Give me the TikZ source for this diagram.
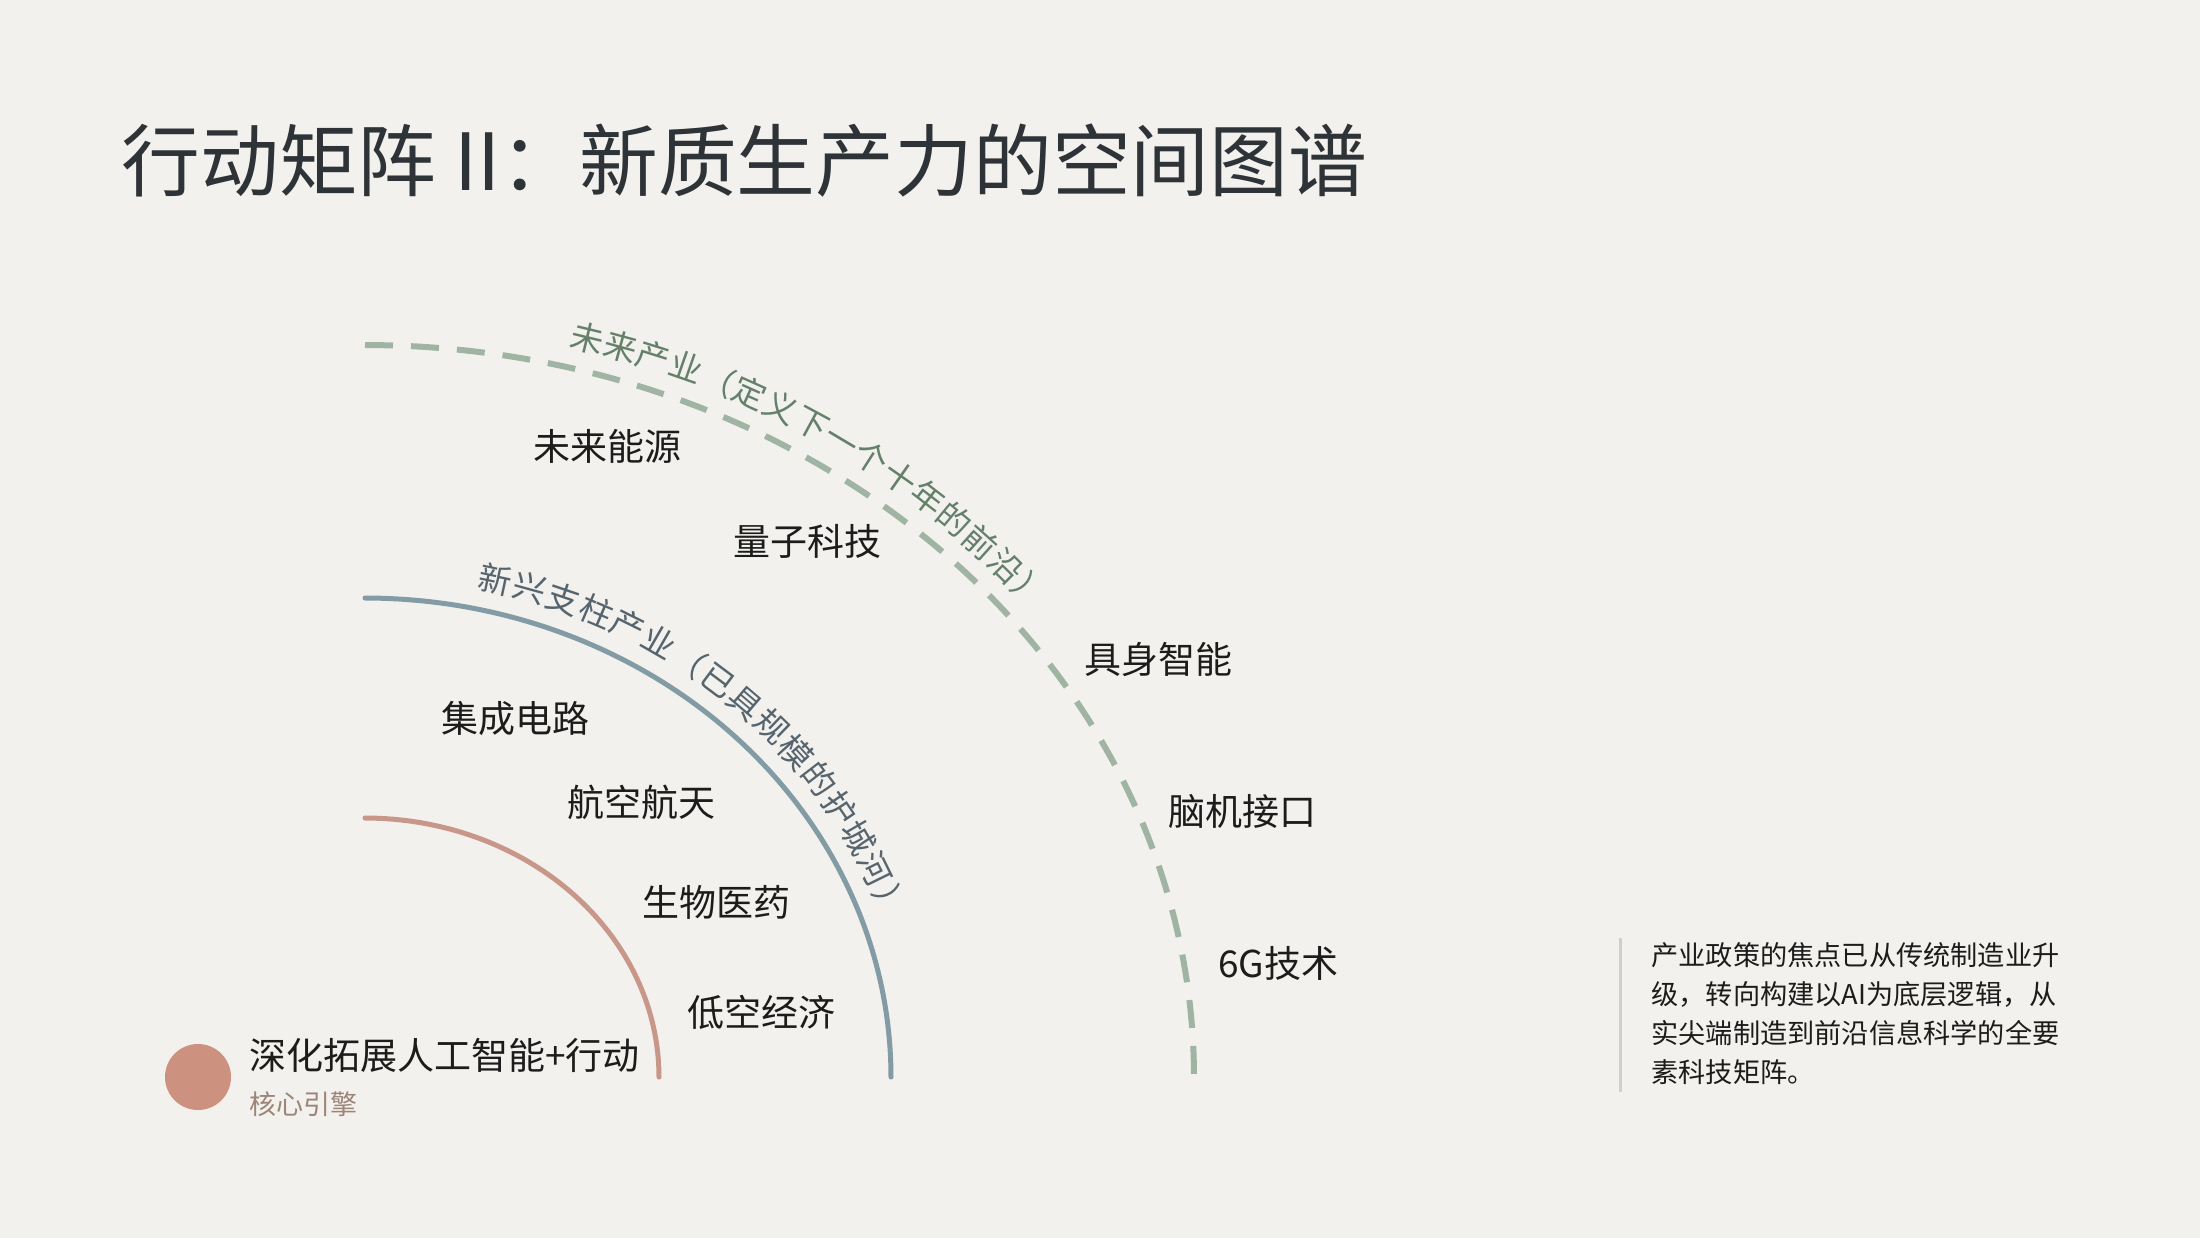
\documentclass[tikz,border=0pt]{standalone}
\usepackage{fontspec}
\setmainfont{Noto Sans CJK SC}
\usetikzlibrary{decorations.text}
\definecolor{bgcol}{HTML}{F2F1ED}
\definecolor{titlecol}{HTML}{2E3338}
\definecolor{itemcol}{HTML}{1C1C1C}
\definecolor{orangearc}{HTML}{C99789}
\definecolor{dotcol}{HTML}{CD917F}
\definecolor{bluearc}{HTML}{829BA5}
\definecolor{bluelab}{HTML}{56646E}
\definecolor{greenarc}{HTML}{A0B4A3}
\definecolor{greenlab}{HTML}{64806A}
\definecolor{sublab}{HTML}{9C8478}
\definecolor{rulecol}{HTML}{CFCFCC}
\newcommand\arclabfont{\fontsize{16.6pt}{19pt}\selectfont}
\tikzset{
  item/.style={font=\fontsize{18.5pt}{22pt}\selectfont, text=itemcol, inner sep=0pt},
  para/.style={font=\fontsize{13.6pt}{18pt}\selectfont, text=itemcol, inner sep=0pt, anchor=west},
  ringline/.style={line width=2.5pt, line cap=round},
}
\begin{document}
\begin{tikzpicture}[x=0.5pt,y=-0.5pt]
\fill[bgcol] (0,0) rectangle (2200,1238);
\useasboundingbox (0,0) rectangle (2200,1238);

% title
\node[anchor=west, inner sep=0pt, text=titlecol, font=\fontsize{39.4pt}{47pt}\selectfont] (title) at (121,161) {行动矩阵 II：新质生产力的空间图谱};

% arcs (quarter ellipses centred at (365,1077))
\draw[ringline, orangearc] plot[domain=90:0, samples=80] ({365+294*cos(\x)}, {1077-259*sin(\x)});
\draw[ringline, bluearc] plot[domain=90:0, samples=100] ({365+526*cos(\x)}, {1077-479*sin(\x)});
\draw[line width=3pt, greenarc, dash pattern=on 14pt off 9pt] plot[domain=90:0, samples=140] ({365+829*cos(\x)}, {1077-732*sin(\x)});

% arc labels
\path[decorate, decoration={text along path, text color=greenlab,
   text={|\arclabfont|未来产业（定义下一个十年的前沿）}, text align={left indent=100pt}, raise=10pt}]
   plot[domain=90:0, samples=140] ({365+829*cos(\x)}, {1077-732*sin(\x)});
\path[decorate, decoration={text along path, text color=bluelab,
   text={|\arclabfont|新兴支柱产业（已具规模的护城河）}, text align={left indent=54pt}, raise=10pt}]
   plot[domain=90:0, samples=100] ({365+526*cos(\x)}, {1077-479*sin(\x)});

% future industries
\node[item] (n1) at (607,446) {未来能源};
\node[item] (n2) at (807,541) {量子科技};
\node[item] (n3) at (1158,660) {具身智能};
\node[item] (n4) at (1242,811) {脑机接口};
\node[item] (n5) at (1278,963) {6G技术};

% emerging pillar industries
\node[item] (m1) at (515,718) {集成电路};
\node[item] (m2) at (641,802) {航空航天};
\node[item] (m3) at (716,902) {生物医药};
\node[item] (m4) at (761,1012) {低空经济};

% core
\fill[dotcol] (198,1077) circle[radius=33];
\node[item, anchor=west] (core) at (249,1055) {深化拓展人工智能+行动};
\node[anchor=west, inner sep=0pt, text=sublab, font=\fontsize{13.5pt}{16pt}\selectfont] (coresub) at (249,1104) {核心引擎};

% right note
\draw[rulecol, line width=1.5pt] (1620,938) -- (1620,1092);
\node[para] (p1) at (1651,955) {产业政策的焦点已从传统制造业升};
\node[para] (p2) at (1651,994) {级，转向构建以AI为底层逻辑，从};
\node[para] (p3) at (1651,1033) {实尖端制造到前沿信息科学的全要};
\node[para] (p4) at (1651,1072) {素科技矩阵。};
\end{tikzpicture}
\end{document}
